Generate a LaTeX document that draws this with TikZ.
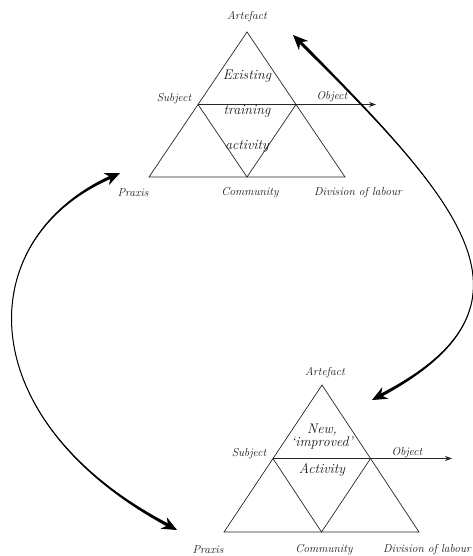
\documentclass[tikz,border=0pt]{standalone}
\usetikzlibrary{arrows.meta,calc}
\newcommand\taperarrow[4]{%
 \draw[bigtip] (#1) .. controls (#2) and (#3) .. (#4);
 \coordinate (tq0) at ($(#1)!10pt!(#2)$);
 \coordinate (tq3) at ($(#4)!10pt!(#3)$);
 \fill ($(tq0)!1.6pt!90:(#2)$) .. controls ($(#2)!0.53pt!90:(tq0)$) and ($(#3)!0.53pt!-90:(tq3)$) .. ($(tq3)!1.6pt!-90:(#3)$)
    -- ($(tq3)!1.6pt!90:(#3)$) .. controls ($(#3)!0.53pt!90:(tq3)$) and ($(#2)!0.53pt!-90:(tq0)$) .. ($(tq0)!1.6pt!-90:(#2)$) -- cycle;
}
\begin{document}
\begin{tikzpicture}[x=1pt,y=-1pt,
 tri/.style={line width=0.7pt, draw=black!85},
 lbl/.style={font=\itshape\fontsize{11.5}{13}\selectfont, inner sep=0pt, text=black!90},
 inner/.style={font=\itshape\fontsize{14}{16}\selectfont, inner sep=0pt, text=black!90},
 objarrow/.style={tri, -{Stealth[length=7pt,width=5pt]}},
 bigtip/.style={line width=1pt, {Stealth[length=15pt,width=13pt]}-{Stealth[length=15pt,width=13pt]}}]
\useasboundingbox (0,0) rectangle (473,556);

% ---- top triangle ----
\coordinate (A1) at (247,32);
\coordinate (L1) at (149,177);
\coordinate (R1) at (345,177);
\coordinate (S1) at (198,104.5);
\coordinate (O1) at (296,104.5);
\coordinate (C1) at (247,177);
\coordinate (E1) at (376,104.5);
\draw[tri] (A1) -- (L1) -- (R1) -- cycle;
\draw[tri] (S1) -- (C1) -- (O1);
\draw[objarrow] (S1) -- (E1);

\node[lbl] (t-art) at (247,17) {Artefact};
\node[lbl] (t-sub) at (174,99) {Subject};
\node[lbl] (t-obj) at (332,97) {Object};
\node[lbl] (t-pra) at (133,193) {Praxis};
\node[lbl] (t-com) at (250,193) {Community};
\node[lbl] (t-div) at (358,193) {Division of labour};
\node[inner] (t-1) at (247,76) {Existing};
\node[inner] (t-2) at (247,111) {training};
\node[inner] (t-3) at (247,146) {activity};

% ---- bottom triangle ----
\coordinate (A2) at (322,385);
\coordinate (L2) at (224,532);
\coordinate (R2) at (419,532);
\coordinate (S2) at (273,458.5);
\coordinate (O2) at (370.5,458.5);
\coordinate (C2) at (321.5,532);
\coordinate (E2) at (452,458.5);
\draw[tri] (A2) -- (L2) -- (R2) -- cycle;
\draw[tri] (S2) -- (C2) -- (O2);
\draw[objarrow] (S2) -- (E2);

\node[lbl] (b-art) at (325,373) {Artefact};
\node[lbl] (b-sub) at (249,454) {Subject};
\node[lbl] (b-obj) at (407,453) {Object};
\node[lbl] (b-pra) at (208,550) {Praxis};
\node[lbl] (b-com) at (324,550) {Community};
\node[lbl] (b-div) at (427,550) {Division of labour};
\node[inner] (b-1) at (322,430) {New,};
\node[inner] (b-2) at (322,443) {`improved'};
\node[inner] (b-3) at (322,470) {Activity};

% ---- big curved arrows ----
\coordinate (LP0) at (120,173);
\coordinate (LC1) at (-30,240);
\coordinate (LC2) at (-30,420);
\coordinate (LP3) at (177,530);
\taperarrow{LP0}{LC1}{LC2}{LP3}

\coordinate (RP0) at (293,35);
\coordinate (RC1) at (463,205);
\coordinate (RC2) at (552,305);
\coordinate (RP3) at (372,400);
\taperarrow{RP0}{RC1}{RC2}{RP3}
\end{tikzpicture}
\end{document}
